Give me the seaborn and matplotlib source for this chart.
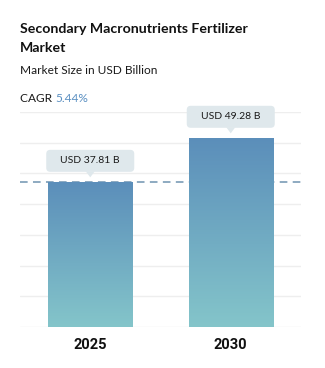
import numpy as np
import pandas as pd
import matplotlib
matplotlib.use("Agg")
import matplotlib.pyplot as plt
import matplotlib.transforms as mtransforms
from matplotlib.patches import FancyBboxPatch, Polygon
from matplotlib.colors import LinearSegmentedColormap
import seaborn as sns

# Market size data
years = ["2025", "2030"]
market_size = [37.81, 49.28]
value_labels = ["USD 37.81 B", "USD 49.28 B"]
title_lines = ["Secondary Macronutrients Fertilizer", "Market"]
subtitle = "Market Size in USD Billion"
cagr_label = "CAGR"
cagr_value = "5.44%"

sns.set_theme(style="white")
plt.rcParams["font.family"] = ["Lato", "DejaVu Sans"]

W, H = 325, 368
fig = plt.figure(figsize=(W / 100, H / 100), dpi=100)
fig.patch.set_facecolor("white")

ax_left, ax_right, ax_top, ax_bottom = 20, 301, 112, 327
ax = fig.add_axes([ax_left / W, 1 - ax_bottom / H,
                   (ax_right - ax_left) / W, (ax_bottom - ax_top) / H])

df = pd.DataFrame({"year": years, "size": market_size})
sns.barplot(data=df, x="year", y="size", ax=ax, width=0.6,
            color="#6a9cc0", saturation=1, zorder=3)

ymax = 56
ax.set_ylim(0, ymax)
ax.set_xlim(-0.5, 1.5)
ax.set_yticks(np.linspace(0, ymax, 8))
ax.yaxis.grid(True, color="#eeeeee", linewidth=1.0, zorder=0)
ax.set_axisbelow(True)
for s in ax.spines.values():
    s.set_visible(False)
ax.tick_params(axis="y", left=False, labelleft=False)
ax.tick_params(axis="x", bottom=False, pad=2)
ax.set_xlabel("")
ax.set_ylabel("")
for lab in ax.get_xticklabels():
    lab.set_fontsize(10.5)
    lab.set_fontweight("bold")
    lab.set_color("#111111")
    lab.set_fontfamily(["Roboto", "DejaVu Sans"])

# Reference line at the first year's value
ax.axhline(market_size[0], color="#6f93b0", linewidth=1.1,
           dashes=(5, 3.5), zorder=2)

# Vertical gradient fill for each bar
cmap = LinearSegmentedColormap.from_list("bar", ["#84c5ca", "#5b8eba"])
grad = np.linspace(0, 1, 256).reshape(-1, 1)
for patch in ax.patches:
    x0, y0 = patch.get_x(), patch.get_y()
    w, h = patch.get_width(), patch.get_height()
    im = ax.imshow(grad, cmap=cmap, aspect="auto", origin="lower",
                   extent=[x0, x0 + w, y0, y0 + h], zorder=3)
    im.set_clip_path(patch)
    patch.set_facecolor("none")
    patch.set_edgecolor("none")
ax.set_xlim(-0.5, 1.5)
ax.set_ylim(0, ymax)

# Value callouts above each bar
box_color = "#dfe8ec"
for i, (v, txt) in enumerate(zip(market_size, value_labels)):
    tr = fig.dpi_scale_trans + mtransforms.ScaledTranslation(i, v, ax.transData)
    bw, bh, gap = 0.88, 0.22, 0.10
    box = FancyBboxPatch((-bw / 2, gap), bw, bh,
                         boxstyle="round,pad=0,rounding_size=0.04",
                         transform=tr, facecolor=box_color,
                         edgecolor="none", zorder=5, clip_on=False)
    fig.add_artist(box)
    tri = Polygon([(-0.045, gap + 0.005), (0.045, gap + 0.005), (0, 0.045)],
                  closed=True, transform=tr, facecolor=box_color,
                  edgecolor="none", zorder=5, clip_on=False)
    fig.add_artist(tri)
    fig.text(0, gap + bh / 2, txt, transform=tr, ha="center", va="center",
             fontsize=7.5, color="#1a1a1a", zorder=6,
             family=["Lato", "DejaVu Sans"])

# Header texts
fig.text(20 / W, 1 - 33 / H, title_lines[0], fontsize=10.2,
         fontweight="bold", color="#111111", va="baseline", ha="left")
fig.text(20 / W, 1 - 51.5 / H, title_lines[1], fontsize=10.2,
         fontweight="bold", color="#111111", va="baseline", ha="left")
fig.text(20 / W, 1 - 74 / H, subtitle, fontsize=8.6,
         color="#1a1a1a", va="baseline", ha="left")
t = fig.text(20 / W, 1 - 101.5 / H, cagr_label + " ", fontsize=8.6,
             color="#1a1a1a", va="baseline", ha="left")
fig.canvas.draw()
bb = t.get_window_extent(fig.canvas.get_renderer())
fig.text(bb.x1 / W, 1 - 101.5 / H, cagr_value, fontsize=8.6,
         color="#5b90c2", va="baseline", ha="left")

fig.savefig("out.png", dpi=100, facecolor="white")
